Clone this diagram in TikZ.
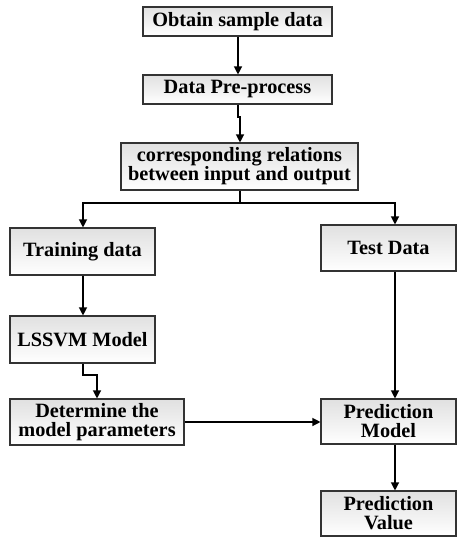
\documentclass[tikz,border=0pt]{standalone}
\usepackage{fontspec}
\setmainfont{Liberation Serif}
\usetikzlibrary{arrows.meta}
\begin{document}
\begin{tikzpicture}[x=1pt,y=-1pt,
  box/.style={draw=black!80,line width=1.1pt,top color=black!12,bottom color=white,
    inner sep=0pt,align=center,font=\fontsize{20.3}{19}\selectfont\bfseries},
  flow/.style={line width=1.2pt,-{Triangle[length=8pt,width=8pt]}},
  link/.style={line width=1.2pt}]
\useasboundingbox (0,0) rectangle (457,538);

% process boxes
\node[box,minimum width=189pt,minimum height=29pt] (obtain) at (237.5,21.5) {Obtain sample data};
\node[box,minimum width=189pt,minimum height=29pt] (pre) at (237.5,89.5) {Data Pre-process};
\node[box,minimum width=237pt,minimum height=47pt] (rel) at (239.5,166.5) {corresponding relations\\between input and output};
\node[box,minimum width=145pt,minimum height=47pt] (train) at (82.5,251.5) {Training data};
\node[box,minimum width=135pt,minimum height=46pt] (test) at (388.5,248) {Test Data};
\node[box,minimum width=145pt,minimum height=47pt] (lssvm) at (82.5,339.5) {LSSVM Model};
\node[box,minimum width=174pt,minimum height=46pt] (param) at (97,422) {Determine the\\model parameters};
\node[box,minimum width=135pt,minimum height=45pt] (pmodel) at (388.5,421.5) {Prediction\\Model};
\node[box,minimum width=135pt,minimum height=45pt] (pvalue) at (388.5,513.5) {Prediction\\Value};

% bend and branch points
\coordinate (j1) at (238,117);
\coordinate (j2) at (240,117);
\coordinate (split) at (240,203);
\coordinate (tl) at (83,203);
\coordinate (tr) at (395,203);
\coordinate (k1) at (83,375);
\coordinate (k2) at (97,375);

% connectors
\draw[flow] (obtain.south -| 238,0) -- (pre.north -| 238,0);
\draw[flow] (pre.south -| j1) -- (j1) -- (j2) -- (rel.north -| j2);
\draw[link] (rel.south -| split) -- (split);
\draw[flow] (split) -- (tl) -- (train.north -| tl);
\draw[flow] (split) -- (tr) -- (test.north -| tr);
\draw[flow] (train.south -| tl) -- (lssvm.north -| tl);
\draw[flow] (lssvm.south -| k1) -- (k1) -- (k2) -- (param.north -| k2);
\draw[flow] (param.east) -- (pmodel.west |- param.east);
\draw[flow] (test.south -| tr) -- (pmodel.north -| tr);
\draw[flow] (pmodel.south -| tr) -- (pvalue.north -| tr);
\end{tikzpicture}
\end{document}
